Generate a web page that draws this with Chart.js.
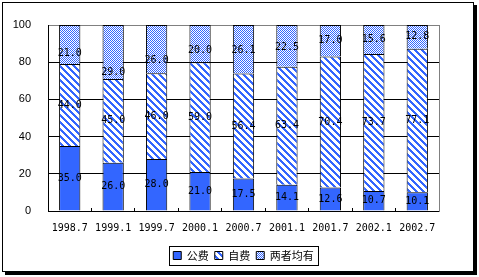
<!DOCTYPE html>
<html>
<head>
<meta charset="utf-8">
<script src="https://cdn.jsdelivr.net/npm/chart.js@4/dist/chart.umd.min.js"></script>
<style>
  html, body { margin: 0; padding: 0; background: #fff; }
  #wrap { position: relative; width: 479px; height: 277px; }
  #frame {
    position: absolute; left: 2px; top: 2px; width: 470px; height: 268px;
    border: 1px solid #000; box-shadow: 3px 3px 0 #000; pointer-events: none;
  }
  canvas { position: absolute; left: 0; top: 0; }
</style>
</head>
<body>
<div id="wrap">
  <canvas id="chart" width="479" height="277"></canvas>
  <div id="frame"></div>
</div>
<script>
/* ---- data ---- */
const periods   = ["1998.7", "1999.1", "1999.7", "2000.1", "2000.7", "2001.1", "2001.7", "2002.1", "2002.7"];
const publicPay = [35.0, 26.0, 28.0, 21.0, 17.5, 14.1, 12.6, 10.7, 10.1];   // 公费
const selfPay   = [44.0, 45.0, 46.0, 59.0, 56.4, 63.4, 70.4, 73.7, 77.1];   // 自费
const bothPay   = [21.0, 29.0, 26.0, 20.0, 26.1, 22.5, 17.0, 15.6, 12.8];   // 两者均有
const seriesNames = ["公费", "自费", "两者均有"];
const yTicks = [0, 20, 40, 60, 80, 100];

// the original file has a few top labels dragged down by hand (px)
const topLabelNudge = [9, 20, 11, 7, 1, 1, 0, 0, 0];

const BLUE = "#3366ff";

/* ---- fill patterns ---- */
function makePattern(size, isBlue) {
  const c = document.createElement("canvas");
  c.width = size; c.height = size;
  const ctx = c.getContext("2d");
  ctx.fillStyle = "#fff";
  ctx.fillRect(0, 0, size, size);
  ctx.fillStyle = BLUE;
  for (let y = 0; y < size; y++)
    for (let x = 0; x < size; x++)
      if (isBlue(x, y)) ctx.fillRect(x, y, 1, 1);
  return document.getElementById("chart").getContext("2d").createPattern(c, "repeat");
}
const hatch   = makePattern(7, (x, y) => ((x - y) % 7 + 7) % 7 < 3);   // "\" stripes
const checker = makePattern(2, (x, y) => (x + y) % 2 === 0);

/* ---- plugins ---- */
const valueLabels = {
  id: "valueLabels",
  afterDatasetsDraw(chart) {
    const ctx = chart.ctx;
    ctx.save();
    ctx.font = "10px 'DejaVu Sans Mono'";
    ctx.fillStyle = "#000";
    ctx.textAlign = "center";
    ctx.textBaseline = "middle";
    chart.data.datasets.forEach((ds, di) => {
      chart.getDatasetMeta(di).data.forEach((bar, i) => {
        let y = (bar.y + bar.base) / 2;
        if (di === 2) y += topLabelNudge[i];
        ctx.fillText(ds.data[i].toFixed(1), bar.x, y);
      });
    });
    ctx.restore();
  }
};

const legendBorder = {
  id: "legendBorder",
  afterDraw(chart) {
    const boxes = chart.legend.legendHitBoxes;
    if (!boxes || !boxes.length) return;
    const l = Math.min(...boxes.map(b => b.left)) - 4;
    const r = Math.max(...boxes.map(b => b.left + b.width)) + 5;
    const t = Math.min(...boxes.map(b => b.top)) - 4;
    const bt = Math.max(...boxes.map(b => b.top + b.height)) + 4;
    const ctx = chart.ctx;
    ctx.save();
    ctx.strokeStyle = "#000";
    ctx.lineWidth = 1;
    ctx.strokeRect(Math.round(l) + 0.5, Math.round(t) + 0.5, Math.round(r - l), Math.round(bt - t));
    ctx.restore();
  }
};

/* ---- chart ---- */
const barStyle = { borderColor: "#000", borderWidth: 1, borderSkipped: "start",
                   barPercentage: 0.49, categoryPercentage: 1 };

new Chart(document.getElementById("chart"), {
  type: "bar",
  data: {
    labels: periods,
    datasets: [
      { label: seriesNames[0], data: publicPay, backgroundColor: BLUE, ...barStyle },
      { label: seriesNames[1], data: selfPay,   backgroundColor: hatch, ...barStyle },
      { label: seriesNames[2], data: bothPay,   backgroundColor: checker, ...barStyle }
    ]
  },
  options: {
    responsive: false,
    devicePixelRatio: 1,
    animation: false,
    layout: { padding: { left: 2, right: 40, top: 25, bottom: 6 } },
    plugins: {
      tooltip: { enabled: false },
      legend: {
        position: "bottom",
        fullSize: false,
        labels: {
          boxWidth: 8, boxHeight: 8, padding: 6, color: "#000",
          font: { family: "'Noto Sans CJK SC'", size: 11 }
        }
      }
    },
    scales: {
      x: {
        stacked: true,
        grid: { drawOnChartArea: false, color: "#000", tickLength: -3 },
        border: { color: "#000" },
        ticks: { color: "#000", padding: 14, maxRotation: 0,
                 font: { family: "'DejaVu Sans Mono'", size: 10 } },
        afterFit: s => { s.height = 33; }
      },
      y: {
        stacked: true, min: 0, max: 100,
        afterBuildTicks: s => { s.ticks = yTicks.map(v => ({ value: v })); },
        grid: { color: c => c.tick && c.tick.value === 100 ? "#808080" : "#000", drawTicks: false },
        border: { color: "#000" },
        ticks: { color: "#000", padding: 17, font: { family: "'Liberation Sans'", size: 11 } },
        afterFit: s => { s.width = 46; }
      },
      y2: {
        position: "right", display: true,
        grid: { drawOnChartArea: false, drawTicks: false },
        ticks: { display: false },
        border: { color: "#808080" },
        afterFit: s => { s.width = 0; }
      }
    }
  },
  plugins: [valueLabels, legendBorder]
});
</script>
</body>
</html>
